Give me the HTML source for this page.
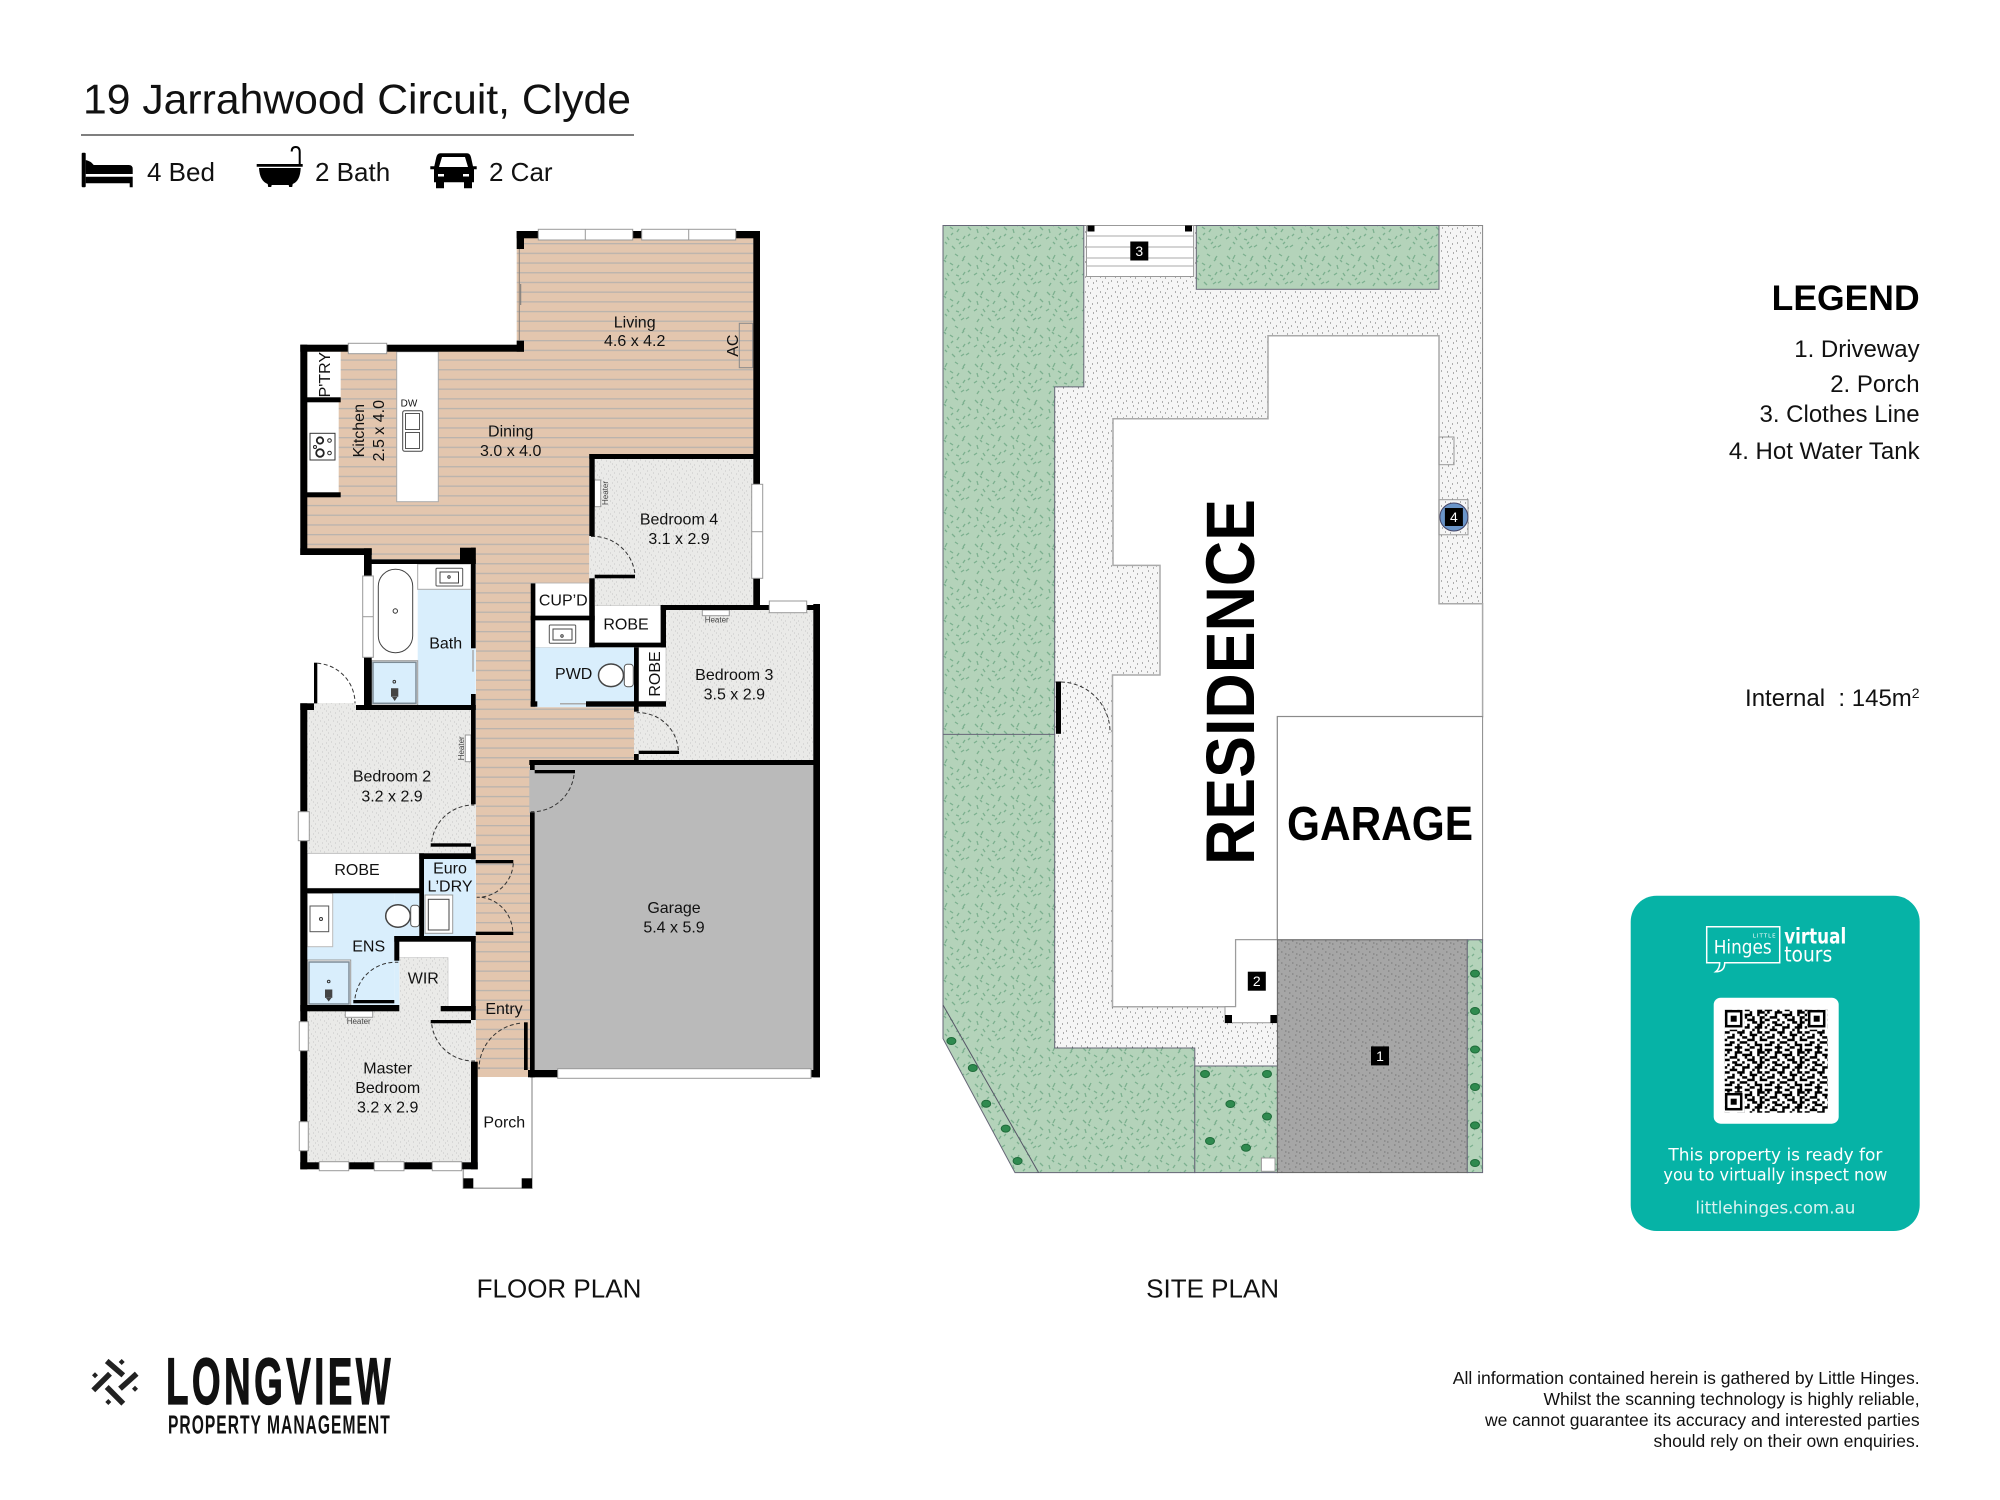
<!DOCTYPE html>
<html><head><meta charset="utf-8"><title>19 Jarrahwood Circuit, Clyde</title>
<style>
html,body{margin:0;padding:0;background:#fff;width:2000px;height:1500px;overflow:hidden}
svg{display:block}
text{font-family:"Liberation Sans",sans-serif;fill:#111}
.l{font-size:16px;text-anchor:middle}
.h{font-size:8px;text-anchor:middle;fill:#444}
.d{fill:none;stroke:#333;stroke-width:1;stroke-dasharray:4 2.5}
.f{fill:#fff;stroke:#999;stroke-width:1}
.t{fill:#fff;font-family:"DejaVu Sans",sans-serif;text-anchor:middle}
.lg{font-size:24px;text-anchor:end}
.ds{font-size:17.55px;text-anchor:end}
.n{fill:#fff;font-size:14px;text-anchor:middle}
</style></head><body>
<svg width="2000" height="1500" viewBox="0 0 2000 1500" xmlns="http://www.w3.org/2000/svg">
<defs>
<pattern id="wood" width="9.7" height="9.7" patternUnits="userSpaceOnUse" y="0.5"><rect width="10" height="10" fill="#e3c6ae"/><rect y="0" width="10" height="1.300" fill="#b9b3ad"/></pattern>
<pattern id="sp" width="13" height="13" patternUnits="userSpaceOnUse"><rect width="13" height="13" fill="#eaeae8"/><path d="M1 2h1M6 1h1M10 3h1M3 5h1M8 6h1M12 7h1M1 9h1M5 10h1M10 11h1M3 12h1" stroke="#c6c6c6" stroke-width="1"/></pattern>
<pattern id="path" width="15" height="15" patternUnits="userSpaceOnUse"><rect width="15" height="15" fill="#f5f5f5"/><path d="M2 3h1M8 1h1M12 4h1M5 7h1M10 8h1M1 11h1M7 12h1M13 13h1" stroke="#666" stroke-width="1"/></pattern>
<pattern id="drive" width="11" height="11" patternUnits="userSpaceOnUse"><rect width="11" height="11" fill="#a6a6a6"/><path d="M2 3h1.500M8 1h1.500M5 6h1.500M9 8h1.500M1 9h1.500" stroke="#777" stroke-width="1"/></pattern>
<pattern id="grass" width="36" height="36" patternUnits="userSpaceOnUse"><rect width="36" height="36" fill="#b4d3ba"/><path d="M3 4l3 3M11 3l-2 4M19 2l3 2M29 4l-2 3M5 13l1 4M14 11l3 2M23 13l-2 3M32 11l3 3M2 23l3-2M11 21l2 3M20 23l3 1M29 20l-2 3M7 31l-2 3M16 30l3 3M25 32l3-2M33 29l-3 2M8 8l2 2M26 9l2-2M17 17l-2 2M34 18l-2 2M9 26l2 2M25 26l-2 2" stroke="#7cb08f" stroke-width="1.300" fill="none"/></pattern>
<pattern id="qr" width="16" height="16" patternUnits="userSpaceOnUse" patternTransform="translate(1732 1013) scale(2.5)">
<path stroke="#000" stroke-width="1" fill="none" d="M0 .5h3m2 0h1m2 0h2m3 0h2M1 1.500h1m2 0h3m3 0h1m2 0h3M0 2.500h1m3 0h1m2 0h4m2 0h1M2 3.500h3m3 0h1m2 0h1m2 0h2M0 4.500h2m3 0h1m3 0h3m2 0h1M3 5.500h2m2 0h1m3 0h2m1 0h2M1 6.500h1m2 0h3m2 0h1m3 0h2M0 7.500h1m2 0h1m3 0h3m2 0h3M2 8.500h3m2 0h1m3 0h1m1 0h1M0 9.500h2m3 0h3m2 0h1m2 0h2M3 10.500h1m2 0h1m3 0h3m2 0h1M1 11.500h3m3 0h2m2 0h1m2 0h1M0 12.500h1m4 0h1m3 0h3m2 0h2M2 13.500h2m2 0h3m3 0h1M0 14.500h3m2 0h1m3 0h1m2 0h3M4 15.500h3m3 0h2m2 0h1"/></pattern>
</defs>

<!-- HEADER -->
<text x="83" y="113.500" font-size="42" textLength="548" lengthAdjust="spacingAndGlyphs">19 Jarrahwood Circuit, Clyde</text>
<line x1="81" y1="135" x2="634" y2="135" stroke="#555" stroke-width="1.500"/>
<!-- bed -->
<g fill="#000"><rect x="81.700" y="152.700" width="4" height="34.600" rx="1"/><path d="M85.700 160q5 1 8 5h35q4 0 4 4v5h-47z"/><path d="M85.700 176.700h47v10.600h-3v-4h-44z"/></g>
<!-- bath -->
<path d="M256.700 164h46v2.800h-46zM259 168h41.700q-.5 13-8 16l-.5 3h-3l-.5-2h-17l-.5 2h-3l-.5-3q-8-3-8.700-16z" fill="#000"/><path d="M299.700 164v-12q0-5-4-5t-4 4.500" fill="none" stroke="#000" stroke-width="2"/>
<!-- car -->
<path d="M440 153.300h27q3 0 4 4l2 9h3.700v3h-2.700v13h-2v6h-8v-6h-20v6h-8v-6h-2v-13h-3.700v-3h4l2-9q1-4 4-4zM442 157l-3 10h29l-3-10zM438 174v2.500h6v-2.500zM463 174v2.500h6v-2.500z" fill="#000" fill-rule="evenodd"/>
<text x="147" y="181" font-size="26">4 Bed</text><text x="315" y="181" font-size="26">2 Bath</text><text x="489" y="181" font-size="26">2 Car</text>

<!-- FLOORS -->
<polygon points="516.700,238 753.300,238 753.300,454 589.300,454 589.300,583 530.700,583 530.700,707 634,707 634,760 530,760 530,1077 476,1077 476,564 460,559 371.700,559 371.700,555 307,555 307,350 516.700,350" fill="url(#wood)"/>
<rect x="594.700" y="459" width="158.600" height="147" fill="url(#sp)"/><rect x="589.300" y="536" width="6" height="43" fill="url(#sp)"/>
<rect x="666" y="610" width="147.300" height="150" fill="url(#sp)"/><rect x="634" y="707" width="34" height="53" fill="url(#sp)"/>
<rect x="307" y="708" width="164" height="146" fill="url(#sp)"/><rect x="314" y="703" width="42" height="7" fill="url(#sp)"/>
<rect x="471" y="804" width="5" height="43" fill="url(#sp)"/>
<rect x="307" y="1010" width="164" height="153" fill="url(#sp)"/><rect x="471" y="1020" width="5" height="42" fill="url(#sp)"/>
<rect x="399.300" y="957.300" width="49" height="54" fill="url(#sp)"/><path d="M399.300 957.300h49v49" fill="none" stroke="#bbb"/>
<rect x="534.700" y="765" width="278.600" height="306" fill="#bababa"/><rect x="529.300" y="770" width="6" height="43" fill="#bababa"/>
<!-- wet rooms -->
<rect x="371.700" y="564" width="46" height="97" fill="#fff"/><rect x="417.700" y="564" width="53.300" height="141" fill="#d9eefc"/><rect x="471" y="648" width="4.700" height="46" fill="#d9eefc"/><rect x="417.700" y="564" width="53.300" height="25.300" fill="#fff" stroke="#aaa"/>
<rect x="371.700" y="660.700" width="46" height="44.300" fill="#fff" stroke="#999"/><rect x="373" y="662.300" width="43" height="41" fill="#d9eefc" stroke="#7d8c96" stroke-width="1.500"/>
<rect x="378.300" y="569.300" width="34.400" height="83.400" rx="17" fill="#fff" stroke="#444"/><circle cx="395.300" cy="611" r="2.200" fill="none" stroke="#333"/>
<rect x="535.300" y="647.300" width="98.700" height="60" fill="#d9eefc"/><rect x="535.300" y="620.300" width="54" height="27" fill="#fff" stroke="#ccc" stroke-width=".5"/>
<rect x="424" y="859" width="51.700" height="78" fill="#d9eefc"/><rect x="425" y="895" width="27.700" height="38.300" class="f"/><rect x="428.300" y="899.300" width="20.700" height="30.700" fill="#fff" stroke="#444"/>
<rect x="307.300" y="893" width="87" height="113" fill="#d9eefc"/><rect x="394.300" y="893" width="25" height="44" fill="#d9eefc"/><rect x="394.300" y="960" width="5" height="46" fill="#d9eefc"/>
<rect x="307.300" y="893.300" width="25.400" height="53.400" fill="#fff" stroke="#bbb"/><rect x="310" y="906" width="18.700" height="25.700" fill="#fff" stroke="#555"/><circle cx="321" cy="919" r="1.500" fill="none" stroke="#333"/>
<rect x="307.300" y="960" width="43.400" height="45.700" fill="#fff" stroke="#999"/><rect x="309" y="962" width="40" height="42" fill="#d9eefc" stroke="#7d8c96" stroke-width="1.500"/>
<!-- fixtures -->
<rect x="436" y="568.300" width="26.700" height="17.700" rx="1" fill="#fff" stroke="#555"/><rect x="440" y="572" width="18.500" height="11" fill="none" stroke="#444"/><circle cx="449" cy="577" r="1.200" fill="none" stroke="#333"/>
<rect x="549.300" y="625" width="26.400" height="18.300" rx="1" fill="#fff" stroke="#555"/><rect x="553" y="629" width="19" height="11" fill="none" stroke="#444"/><circle cx="562" cy="636" r="1.200" fill="none" stroke="#333"/>
<ellipse cx="611" cy="675.300" rx="12.500" ry="11.300" fill="#fff" stroke="#444" stroke-width="1.500"/><rect x="624.300" y="664.300" width="9" height="22.400" rx="3" fill="#fff" stroke="#555"/>
<ellipse cx="398" cy="916" rx="12.300" ry="11.200" fill="#fff" stroke="#444" stroke-width="1.500"/><rect x="410.700" y="905.300" width="8.600" height="21.400" rx="3" fill="#fff" stroke="#555"/>
<path d="M391 688.300h7.300v8.400H391zM392 697l2.700 4 2.700-4z" fill="#444"/><circle cx="394.300" cy="681.700" r="1.300" fill="none" stroke="#333"/>
<path d="M325 989.500h7.300v8.400H325zM326 998l2.700 3.500 2.700-3.500z" fill="#444"/><circle cx="328.700" cy="981.500" r="1.300" fill="none" stroke="#333"/>
<!-- kitchen -->
<rect x="307.300" y="351.700" width="33.400" height="46" fill="#fff"/><rect x="307.300" y="402" width="31.400" height="91" fill="#fff"/><rect x="396.700" y="351.700" width="41.600" height="150" fill="#fff" stroke="#aaa"/>
<rect x="310" y="433.300" width="25" height="26.700" fill="#fff" stroke="#333"/><circle cx="320" cy="440.500" r="3.200" fill="none" stroke="#222" stroke-width="1.800"/><circle cx="329.500" cy="440.500" r="1.800" fill="none" stroke="#222"/><circle cx="320" cy="453" r="3.800" fill="none" stroke="#222" stroke-width="1.800"/><circle cx="329.500" cy="453" r="1.800" fill="none" stroke="#222"/><circle cx="315" cy="447" r="1.500" fill="none" stroke="#222"/>
<rect x="402.700" y="410.700" width="20" height="40.600" rx="2" fill="#fff" stroke="#444"/><rect x="405.500" y="413.500" width="14" height="16" fill="none" stroke="#555"/><rect x="405.500" y="432.500" width="14" height="16" fill="none" stroke="#555"/>
<rect x="739.300" y="323.300" width="13.400" height="44.400" fill="none" stroke="#888"/>
<rect x="594.500" y="480" width="6.200" height="26.700" class="f"/><rect x="702.300" y="610" width="27" height="5.700" class="f"/><rect x="465.300" y="735" width="5.700" height="26.700" class="f"/><rect x="345.300" y="1011" width="27.400" height="6.300" class="f"/>
<!-- white robes -->
<rect x="535.300" y="583.300" width="54" height="32.400" fill="#fff" stroke="#bbb" stroke-width=".5"/><rect x="594.700" y="605.700" width="66" height="37" fill="#fff" stroke="#bbb" stroke-width=".5"/><rect x="638.700" y="647.300" width="27.300" height="54" fill="#fff" stroke="#bbb" stroke-width=".7"/><rect x="307.300" y="853.300" width="112" height="35" fill="#fff" stroke="#aaa" stroke-width=".7"/>
<path d="M399.300 941.700h71.700v64.300h-22.700v-48.700h-49z" fill="#fff"/>
<!-- porch -->
<path d="M532 1077v111.300h-68.700v-19" fill="none" stroke="#aaa" stroke-width="1.500"/><rect x="463.300" y="1178.300" width="10" height="10"/><rect x="521.700" y="1178.300" width="10.300" height="10"/>
<!-- WALLS -->
<g fill="#000">
<rect x="516.700" y="231" width="243.300" height="7.300"/><rect x="516.700" y="231" width="7.300" height="18"/><rect x="516.700" y="340.700" width="7.300" height="11"/>
<rect x="300.300" y="344.700" width="223.700" height="7"/><rect x="300.300" y="344.700" width="7" height="210.300"/><rect x="300.300" y="548.300" width="71.400" height="6.700"/><rect x="364" y="548.300" width="7.700" height="28.700"/><rect x="364" y="559.300" width="111.700" height="4.700"/><rect x="460" y="547.700" width="15.700" height="16.300"/><rect x="471" y="547.700" width="4.700" height="100.600"/><rect x="364" y="657" width="7.700" height="53"/><rect x="471" y="694" width="4.700" height="16"/><rect x="356" y="705" width="119.700" height="5"/>
<rect x="307" y="397.300" width="33.700" height="5"/><rect x="307" y="492.300" width="33.700" height="5"/>
<rect x="753.300" y="231" width="6.700" height="254"/><rect x="753.300" y="578" width="6.700" height="32"/>
<rect x="589.300" y="454" width="170.700" height="5"/><rect x="589.300" y="454" width="5.400" height="82"/><rect x="589.300" y="578.300" width="5.400" height="69"/><rect x="594.700" y="574.700" width="40.300" height="3.600"/>
<rect x="660.700" y="605" width="159.300" height="5"/><rect x="660.700" y="605" width="5.300" height="42.300"/><rect x="589.300" y="642.700" width="76.700" height="4.600"/>
<rect x="530.700" y="583.300" width="4.600" height="123.400"/><rect x="530.700" y="615.700" width="64" height="4.600"/>
<rect x="634" y="647.300" width="4.700" height="64.400"/><rect x="586" y="701.300" width="80" height="5.400"/><rect x="530.700" y="701.300" width="6.600" height="5.400"/>
<rect x="638.700" y="750.700" width="40.300" height="3.300"/><rect x="634" y="754" width="4.700" height="6"/>
<rect x="529.300" y="760" width="290.700" height="5"/><rect x="530" y="760" width="4.700" height="10"/><rect x="534.700" y="770" width="40.300" height="3.300"/><rect x="530" y="812.300" width="4.700" height="265"/>
<rect x="813.300" y="604" width="6.700" height="473.300"/><rect x="528" y="1070" width="29.700" height="7.300"/><rect x="811" y="1070" width="9" height="7.300"/>
<rect x="300.300" y="703.300" width="7" height="466"/><rect x="300.300" y="703.300" width="13.700" height="6.700"/><rect x="314" y="662.700" width="3.300" height="40.700"/>
<rect x="471" y="705" width="4.700" height="99.300"/><rect x="430.700" y="843.300" width="40.300" height="3.400"/><rect x="471" y="846.700" width="4.700" height="12.600"/>
<rect x="419.300" y="853.300" width="56.400" height="5.700"/><rect x="419.300" y="853.300" width="4.700" height="87.400"/><rect x="307" y="888.300" width="117" height="5"/>
<rect x="394.300" y="936" width="81.400" height="5.700"/><rect x="394.300" y="936" width="5" height="24.700"/>
<rect x="475.700" y="860" width="37.600" height="3.300"/><rect x="475.700" y="931.700" width="37.600" height="3.300"/><rect x="471" y="936" width="4.700" height="84"/>
<rect x="300.300" y="1005" width="99" height="6.300"/><rect x="353.300" y="1000" width="41" height="3.300"/><rect x="440.700" y="1006" width="35" height="5.300"/><rect x="430.700" y="1020" width="40.300" height="3.300"/>
<rect x="471" y="1061.700" width="6.700" height="107.600"/><rect x="300.300" y="1162.300" width="177.400" height="7"/><rect x="524" y="1022.300" width="3.700" height="47.700"/>
</g>
<!-- windows -->
<g class="f"><rect x="538.300" y="229.300" width="94.400" height="10.700"/><line x1="585.300" y1="229.500" x2="585.300" y2="240"/><rect x="641.700" y="229.300" width="94" height="10.700"/><line x1="688.700" y1="229.500" x2="688.700" y2="240"/>
<rect x="348.300" y="343.300" width="38.400" height="10.400"/><rect x="751.700" y="484.300" width="11" height="94"/><line x1="751.700" y1="531.700" x2="762.700" y2="531.700"/><rect x="769.300" y="601" width="37.400" height="11.700"/>
<rect x="362.700" y="576" width="10.600" height="81.300"/><line x1="362.700" y1="616.700" x2="373.300" y2="616.700"/><rect x="298.300" y="811.700" width="11" height="29"/><rect x="299.300" y="1021.700" width="9" height="29"/><rect x="299.300" y="1121.700" width="9" height="29"/><rect x="319.300" y="1161.700" width="29.400" height="9"/><rect x="374.300" y="1161.700" width="29.700" height="9"/><rect x="432.300" y="1161.700" width="29.400" height="9"/>
<rect x="557.700" y="1068.700" width="253.300" height="9.600"/></g>
<line x1="519.300" y1="249" x2="519.300" y2="340.700" stroke="#8a8078"/><line x1="520.700" y1="284" x2="520.700" y2="305" stroke="#777"/>
<line x1="473" y1="650" x2="473" y2="671.700" stroke="#aaa" stroke-width="1.500"/><line x1="560" y1="703.700" x2="586" y2="703.700" stroke="#aaa" stroke-width="1.500"/>
<!-- door arcs -->
<path class="d" d="M591 536.500A42 42 0 0 1 635 574.700M317.300 663.300A40 40 0 0 1 355 703.300M678.300 750A40 40 0 0 0 636.700 712.700M574 775A42 42 0 0 1 530.700 811.700M431.700 841.700A42 42 0 0 1 474.300 805M513.300 863.300A36 36 0 0 1 476.700 897.300M481.700 897.300A36 36 0 0 1 512.700 930.700M355 998.300A41 41 0 0 1 398.300 962.300M431.700 1024.300A42 42 0 0 0 475 1061M520 1023.300A46 46 0 0 0 479 1069.300"/>
<!-- labels -->
<text class="l" x="634.700" y="327.300">Living</text><text class="l" x="634.700" y="346">4.6 x 4.2</text>
<text class="l" x="510.700" y="436.700">Dining</text><text class="l" x="510.700" y="456">3.0 x 4.0</text>
<text class="l" transform="translate(364 430.700) rotate(-90)">Kitchen</text><text class="l" transform="translate(384 430.700) rotate(-90)">2.5 x 4.0</text>
<text class="l" transform="translate(330 374.700) rotate(-90)">P'TRY</text><text class="l" transform="translate(738 345.700) rotate(-90)">AC</text>
<text class="l" x="409" y="406.700" style="font-size:10px">DW</text>
<text class="l" x="679" y="524.300">Bedroom 4</text><text class="l" x="679" y="544">3.1 x 2.9</text>
<text class="l" x="563.300" y="605.700">CUP’D</text><text class="l" x="626" y="629.300">ROBE</text><text class="l" x="445.700" y="648.300">Bath</text>
<text class="l" x="573.700" y="679">PWD</text><text class="l" transform="translate(660 674) rotate(-90)">ROBE</text>
<text class="l" x="734.300" y="680">Bedroom 3</text><text class="l" x="734.300" y="699.700">3.5 x 2.9</text>
<text class="l" x="392" y="781.700">Bedroom 2</text><text class="l" x="392" y="801.300">3.2 x 2.9</text>
<text class="l" x="357" y="875">ROBE</text><text class="l" x="450" y="873.300">Euro</text><text class="l" x="450" y="891.700">L’DRY</text>
<text class="l" x="368.700" y="951.700">ENS</text><text class="l" x="423.300" y="983.700">WIR</text><text class="l" x="504" y="1014">Entry</text>
<text class="l" x="387.700" y="1073.300">Master</text><text class="l" x="387.700" y="1093">Bedroom</text><text class="l" x="387.700" y="1112.300">3.2 x 2.9</text>
<text class="l" x="504.300" y="1127.300">Porch</text><text class="l" x="674" y="913">Garage</text><text class="l" x="674" y="932.500">5.4 x 5.9</text>
<text class="h" transform="translate(608 493) rotate(-90)">Heater</text><text class="h" x="716.700" y="622.300">Heater</text><text class="h" transform="translate(464 748.300) rotate(-90)">Heater</text><text class="h" x="358.700" y="1024">Heater</text>

<!-- SITE PLAN -->
<rect x="943" y="225.500" width="539.600" height="378" fill="url(#path)" stroke="#888"/>
<rect x="1054.700" y="380" width="230" height="670" fill="url(#path)"/><rect x="1194.800" y="1006" width="83" height="62" fill="url(#path)"/>
<polygon points="943,225.500 1083.800,225.500 1083.800,386.900 1054.700,386.900 1054.700,1048 1194.800,1048 1194.800,1172.600 1015,1172.600 943,1038.600" fill="url(#grass)" stroke="#667" stroke-width="1"/>
<line x1="943" y1="734.400" x2="1054.700" y2="734.400" stroke="#667"/><line x1="943" y1="1005" x2="1038.600" y2="1172.600" stroke="#556"/>
<rect x="1196.300" y="225.500" width="242.700" height="63.800" fill="url(#grass)" stroke="#667"/>
<rect x="1194.800" y="1066" width="82.600" height="106.600" fill="url(#grass)" stroke="#667"/>
<polygon points="1113,418.800 1268,418.800 1268,335.800 1439,335.800 1439,603.700 1482.600,603.700 1482.600,716.600 1277.400,716.600 1277.400,939.800 1235.700,939.800 1235.700,1006.800 1112.500,1006.800 1112.500,675 1160,675 1160,565.400 1113,565.400" fill="#fff" stroke="#aaa" stroke-width="1.500"/>
<rect x="1277.400" y="716.600" width="205.200" height="223.200" fill="#fff" stroke="#888"/>
<path d="M1235.700 939.800h41.700v82.900h-52.400v-15.900h10.700z" fill="#fff" stroke="#999"/><rect x="1225" y="1015" width="7" height="8"/><rect x="1270.400" y="1015" width="7" height="8"/>
<rect x="1277.400" y="939.800" width="189.900" height="232.800" fill="url(#drive)" stroke="#666"/>
<rect x="1467.300" y="939.800" width="15.300" height="232.800" fill="url(#grass)" stroke="#667"/>
<rect x="1086.500" y="225.500" width="107.100" height="51" fill="#fff" stroke="#999"/><path d="M1086.500 236h107M1086.500 247h107M1086.500 258h107M1086.500 266h107" stroke="#aaa"/><rect x="1087.500" y="225.500" width="7" height="6"/><rect x="1185" y="225.500" width="7" height="6"/>
<rect x="1439" y="437" width="15" height="27.700" fill="none" stroke="#999"/><rect x="1439" y="499.700" width="29" height="35.100" fill="none" stroke="#999"/>
<rect x="1056" y="681.500" width="5" height="52.300"/><path class="d" d="M1061 682A50 50 0 0 1 1110 733"/>
<rect x="1261.400" y="1158" width="13.600" height="13.300" fill="#fff" stroke="#999"/>
<g fill="#2f8a4f" stroke="#1f6b3a" stroke-width="1"><ellipse cx="951.400" cy="1041" rx="4.500" ry="3.500"/><ellipse cx="972.800" cy="1068" rx="4.500" ry="3.500"/><ellipse cx="986.200" cy="1103.700" rx="4.500" ry="3.500"/><ellipse cx="1005.700" cy="1128.600" rx="4.500" ry="3.500"/><ellipse cx="1017.600" cy="1161" rx="4.500" ry="3.500"/><ellipse cx="1205" cy="1074" rx="4.500" ry="3.500"/><ellipse cx="1267" cy="1074" rx="4.500" ry="3.500"/><ellipse cx="1230.400" cy="1104" rx="4.500" ry="3.500"/><ellipse cx="1267" cy="1116.500" rx="4.500" ry="3.500"/><ellipse cx="1210" cy="1141" rx="4.500" ry="3.500"/><ellipse cx="1246" cy="1147.700" rx="4.500" ry="3.500"/><ellipse cx="1475" cy="973.600" rx="4.500" ry="3.500"/><ellipse cx="1475" cy="1011" rx="4.500" ry="3.500"/><ellipse cx="1475" cy="1049.500" rx="4.500" ry="3.500"/><ellipse cx="1475" cy="1087" rx="4.500" ry="3.500"/><ellipse cx="1475" cy="1125.400" rx="4.500" ry="3.500"/><ellipse cx="1475" cy="1163" rx="4.500" ry="3.500"/></g>
<ellipse cx="1453.900" cy="517" rx="14" ry="14" fill="#6a95c9" stroke="#446"/>
<rect x="1130.300" y="241.500" width="18" height="19"/><rect x="1247.800" y="971.700" width="18" height="19"/><rect x="1371" y="1046.400" width="18" height="19"/><rect x="1444.900" y="508" width="18" height="18"/>
<text class="n" x="1139.300" y="256">3</text><text class="n" x="1256.800" y="986">2</text><text class="n" x="1380" y="1061">1</text><text class="n" x="1453.900" y="522">4</text>
<text transform="translate(1254 865) rotate(-90)" font-size="69" font-weight="700" textLength="366" lengthAdjust="spacingAndGlyphs" style="fill:#000">RESIDENCE</text>
<text x="1287" y="840" font-size="48" font-weight="700" textLength="186" lengthAdjust="spacingAndGlyphs" style="fill:#000">GARAGE</text>

<!-- LEGEND -->
<text x="1919.600" y="310" font-size="35.500" font-weight="700" text-anchor="end" style="fill:#000">LEGEND</text>
<text class="lg" x="1919.600" y="357">1. Driveway</text><text class="lg" x="1919.600" y="392">2. Porch</text><text class="lg" x="1919.600" y="422">3. Clothes Line</text><text class="lg" x="1919.600" y="459">4. Hot Water Tank</text>
<text class="lg" x="1919.600" y="706" xml:space="preserve">Internal  : 145m<tspan font-size="14" dy="-8">2</tspan></text>
<text x="559" y="1297.500" font-size="26" text-anchor="middle">FLOOR PLAN</text><text x="1212.600" y="1297.500" font-size="26" text-anchor="middle">SITE PLAN</text>

<!-- CARD -->
<g transform="translate(-7.300 -4.300)">
<rect x="1638" y="900" width="289" height="335.300" rx="26" fill="#06b3a6"/>
<path d="M1714 931h73v36h-55q0 9-9 9 4-3 4-9h-13z" fill="none" stroke="#fff" stroke-width="1.500"/>
<text class="t" x="1750" y="958" font-size="18.500" textLength="58" lengthAdjust="spacingAndGlyphs">Hinges</text>
<text class="t" x="1772" y="942" font-size="5.500" letter-spacing="1">LITTLE</text>
<text class="t" x="1822.500" y="948" font-size="21" font-weight="700" textLength="62" lengthAdjust="spacingAndGlyphs">virtual</text>
<text class="t" x="1815.500" y="966" font-size="21" textLength="48" lengthAdjust="spacingAndGlyphs">tours</text>
<rect x="1721" y="1002" width="125" height="126" rx="7" fill="#fff"/>
<rect x="1732" y="1014" width="103" height="103" fill="url(#qr)"/>
<g fill="#fff"><rect x="1732" y="1014" width="20" height="20"/><rect x="1815" y="1014" width="20" height="20"/><rect x="1732" y="1097" width="20" height="20"/></g>
<g fill="none" stroke="#000" stroke-width="2.500"><rect x="1733.500" y="1015.500" width="15" height="15"/><rect x="1816.500" y="1015.500" width="15" height="15"/><rect x="1733.500" y="1098.500" width="15" height="15"/></g>
<g><rect x="1738" y="1020" width="6" height="6"/><rect x="1821" y="1020" width="6" height="6"/><rect x="1738" y="1103" width="6" height="6"/></g>
<text class="t" x="1782.700" y="1164.700" font-size="17" textLength="214" lengthAdjust="spacingAndGlyphs">This property is ready for</text>
<text class="t" x="1782.700" y="1184.700" font-size="17" textLength="224" lengthAdjust="spacingAndGlyphs">you to virtually inspect now</text>
<text class="t" x="1782.700" y="1217.700" font-size="17" textLength="160" lengthAdjust="spacingAndGlyphs" opacity=".85">littlehinges.com.au</text>
</g>

<!-- LOGO -->
<g transform="translate(115 1382)" fill="none" stroke="#222" stroke-width="5.500"><path d="M-8.300-21L8.300-6.700M5 6.700L21.700-8.300M-8.300 5L8.300 21.700M-21.700 8.300L-5-8.300"/></g>
<g transform="translate(115 1382)" fill="#222"><path d="M6.700-23l3 3-3 3-3-3zM-20-9.700l3 3-3 3-3-3zM20 3.700l3 3-3 3-3-3zM-6.700 17l3 3-3 3-3-3z"/></g>
<text transform="translate(166 1404) scale(.56 1)" font-size="66" font-weight="700" letter-spacing="6" style="fill:#111;stroke:#111;stroke-width:1.200">LONGVIEW</text>
<text transform="translate(168 1433.300) scale(.6 1)" font-size="26" font-weight="700" letter-spacing="1.700" style="fill:#111">PROPERTY MANAGEMENT</text>

<!-- DISCLAIMER -->
<text class="ds" x="1919.600" y="1384">All information contained herein is gathered by Little Hinges.</text>
<text class="ds" x="1919.600" y="1405">Whilst the scanning technology is highly reliable,</text>
<text class="ds" x="1919.600" y="1426">we cannot guarantee its accuracy and interested parties</text>
<text class="ds" x="1919.600" y="1447">should rely on their own enquiries.</text>
</svg>
</body></html>
